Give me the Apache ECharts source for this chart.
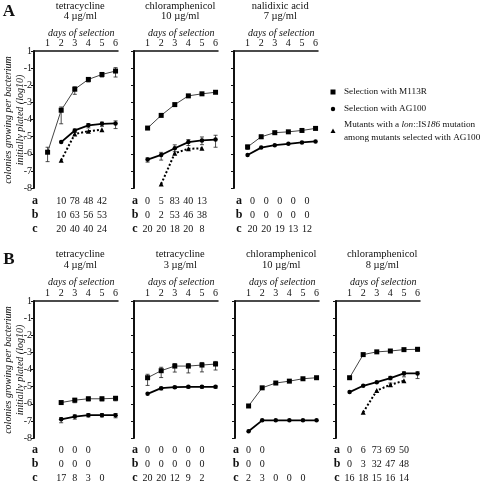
<!DOCTYPE html>
<html><head><meta charset="utf-8">
<script src="https://cdn.jsdelivr.net/npm/echarts@6/dist/echarts.min.js"></script>
<style>html,body{margin:0;padding:0;background:#fff}#c{width:480px;height:482px}</style>
</head><body><div id="c"></div><script>
// ---------- data ----------
const days = [1, 2, 3, 4, 5, 6];
const tableDays = [1, 2, 3, 4, 5];
const yTickLabels = ['1', '-1', '-2', '-3', '-4', '-5', '-6', '-7', '-8']; // values 0 .. -8
const dayAxisName = 'days of selection';
const yAxisTitle = ['colonies growing per bacterium', 'initially plated (log10)'];
const rowLetters = ['a', 'b', 'c'];
const figureLetters = ['A', 'B'];
const legendM113R = 'Selection with M113R';
const legendAG100 = 'Selection with AG100';
const legendLon = ['Mutants with a {i|lon}::IS{i|186} mutation', 'among mutants selected with AG100'];

// A1 tetracycline 4
const a1Title = ['tetracycline', '4 µg/ml'];
const a1M113R = [-5.91, -3.46, -2.23, -1.66, -1.37, -1.17];
const a1M113RErr = [[0.55, 0.29], [0.79, 0.19], [0.3, 0.14], [0.15, 0.1], [0.15, 0.1], [0.35, 0.2]];
const a1AG100 = [null, -5.32, -4.64, -4.34, -4.25, -4.23];
const a1AG100Err = [null, null, [0.12, 0.08], [0.15, 0.1], [0.15, 0.1], [0.3, 0.15]];
const a1Lon = [null, -6.38, -4.85, -4.68, -4.60, null];
const a1RowA = ['', '10', '78', '48', '42'];
const a1RowB = ['', '10', '63', '56', '53'];
const a1RowC = ['', '20', '40', '40', '24'];

// A2 chloramphenicol 10
const a2Title = ['chloramphenicol', '10 µg/ml'];
const a2M113R = [-4.5, -3.76, -3.13, -2.62, -2.5, -2.41];
const a2AG100 = [-6.34, -6.07, -5.68, -5.32, -5.22, -5.17];
const a2AG100Err = [[0.15, 0.1], [0.3, 0.15], [0.2, 0.2], [0.2, 0.15], [0.25, 0.2], [0.45, 0.25]];
const a2Lon = [null, -7.77, -5.97, -5.71, -5.68, null];
const a2RowA = ['0', '5', '83', '40', '13'];
const a2RowB = ['0', '2', '53', '46', '38'];
const a2RowC = ['20', '20', '18', '20', '8'];

// A3 nalidixic acid 7
const a3Title = ['nalidixic acid', '7 µg/ml'];
const a3M113R = [-5.6, -5.01, -4.77, -4.72, -4.64, -4.52];
const a3M113RErr = [[0.15, 0.1], [0.1, 0.1], null, null, null, null];
const a3AG100 = [-6.07, -5.64, -5.5, -5.42, -5.34, -5.28];
const a3RowA = ['0', '0', '0', '0', '0'];
const a3RowB = ['0', '0', '0', '0', '0'];
const a3RowC = ['20', '20', '19', '13', '12'];

// B1 tetracycline 4
const b1Title = ['tetracycline', '4 µg/ml'];
const b1M113R = [null, -5.93, -5.79, -5.71, -5.71, -5.68];
const b1M113RErr = [null, null, [0.15, 0.1], [0.12, 0.1], [0.12, 0.1], [0.15, 0.1]];
const b1AG100 = [null, -6.91, -6.75, -6.67, -6.67, -6.67];
const b1AG100Err = [null, [0.2, 0.1], [0.15, 0.1], [0.1, 0.1], [0.1, 0.1], [0.15, 0.1]];
const b1RowA = ['', '0', '0', '0', ''];
const b1RowB = ['', '0', '0', '0', ''];
const b1RowC = ['', '17', '8', '3', '0'];

// B2 tetracycline 3
const b2Title = ['tetracycline', '3 µg/ml'];
const b2M113R = [-4.48, -4.07, -3.8, -3.8, -3.74, -3.68];
const b2M113RErr = [[0.45, 0.2], [0.4, 0.2], [0.35, 0.15], [0.4, 0.15], [0.4, 0.15], [0.35, 0.15]];
const b2AG100 = [-5.42, -5.09, -5.03, -5.01, -5.01, -5.01];
const b2AG100Err = [null, [0.1, 0.05], [0.08, 0.05], [0.08, 0.05], [0.08, 0.05], [0.08, 0.05]];
const b2RowA = ['0', '0', '0', '0', '0'];
const b2RowB = ['0', '0', '0', '0', '0'];
const b2RowC = ['20', '20', '12', '9', '2'];

// B3 chloramphenicol 10
const b3Title = ['chloramphenicol', '10 µg/ml'];
const b3M113R = [-6.13, -5.07, -4.79, -4.68, -4.54, -4.48];
const b3AG100 = [-7.61, -6.97, -6.97, -6.97, -6.97, -6.97];
const b3RowA = ['0', '0', '', '', ''];
const b3RowB = ['0', '0', '', '', ''];
const b3RowC = ['2', '3', '0', '0', '0'];

// B4 chloramphenicol 8
const b4Title = ['chloramphenicol', '8 µg/ml'];
const b4M113R = [-4.48, -3.13, -2.97, -2.92, -2.84, -2.82];
const b4M113RErr = [null, null, null, null, [0.08, 0.05], [0.1, 0.05]];
const b4AG100 = [-5.32, -4.95, -4.74, -4.5, -4.23, -4.23];
const b4AG100Err = [null, null, null, [0.1, 0.1], [0.2, 0.1], [0.3, 0.1]];
const b4Lon = [null, -6.5, -5.23, -4.89, -4.66, null];
const b4LonErr = [null, null, null, [0.1, 0.1], null, null];
const b4RowA = ['0', '6', '73', '69', '50'];
const b4RowB = ['0', '3', '32', '47', '48'];
const b4RowC = ['16', '18', '15', '16', '14'];

// ---------- layout ----------
const FONT = 'Liberation Serif';
const rowA = { top: 51, titleY: [6, 16], nameY: 33, tableY: [201, 215, 229], letterY: 12, yTitleC: 120 };
const rowB = { top: 301, titleY: [254, 265], nameY: 282, tableY: [450, 464, 478], letterY: 260, yTitleC: 370 };
const panels = [
  { t: a1Title, sq: a1M113R, sqE: a1M113RErr, ci: a1AG100, ciE: a1AG100Err, tr: a1Lon, rows: [a1RowA, a1RowB, a1RowC], left: 34, R: rowA, yl: true, ls: 1, ns: 0 },
  { t: a2Title, sq: a2M113R, ci: a2AG100, ciE: a2AG100Err, tr: a2Lon, rows: [a2RowA, a2RowB, a2RowC], left: 134, R: rowA, ls: 1, ns: 0 },
  { t: a3Title, sq: a3M113R, sqE: a3M113RErr, ci: a3AG100, rows: [a3RowA, a3RowB, a3RowC], left: 234, R: rowA, ls: 5, ns: 5 },
  { t: b1Title, sq: b1M113R, sqE: b1M113RErr, ci: b1AG100, ciE: b1AG100Err, rows: [b1RowA, b1RowB, b1RowC], left: 34, R: rowB, yl: true, ls: 1, ns: 0 },
  { t: b2Title, sq: b2M113R, sqE: b2M113RErr, ci: b2AG100, ciE: b2AG100Err, rows: [b2RowA, b2RowB, b2RowC], left: 134, R: rowB, ls: 1, ns: 0 },
  { t: b3Title, sq: b3M113R, ci: b3AG100, rows: [b3RowA, b3RowB, b3RowC], left: 235, R: rowB, ls: 1, ns: 0 },
  { t: b4Title, sq: b4M113R, sqE: b4M113RErr, ci: b4AG100, ciE: b4AG100Err, tr: b4Lon, trE: b4LonErr, rows: [b4RowA, b4RowB, b4RowC], left: 336, R: rowB, ls: 1, ns: 0 }
];

function pts(vals) {
  const out = [];
  (vals || []).forEach((v, k) => { if (v != null) out.push([days[k], v]); });
  return out;
}
function errPts(vals, errs) {
  const out = [];
  (errs || []).forEach((e, k) => { if (e && vals[k] != null) out.push([days[k], vals[k] - e[0], vals[k] + e[1]]); });
  return out;
}
function errRender(params, api) {
  const x = api.value(0), lo = api.value(1), hi = api.value(2);
  const a = api.coord([x, lo]), b = api.coord([x, hi]);
  const w = 2, st = { stroke: '#222', lineWidth: 0.8 };
  return { type: 'group', children: [
    { type: 'line', shape: { x1: a[0], y1: a[1], x2: b[0], y2: b[1] }, style: st },
    { type: 'line', shape: { x1: a[0] - w, y1: a[1], x2: a[0] + w, y2: a[1] }, style: st },
    { type: 'line', shape: { x1: b[0] - w, y1: b[1], x2: b[0] + w, y2: b[1] }, style: st }
  ]};
}

const grids = [], xAxes = [], yAxes = [], series = [];
panels.forEach((p, i) => {
  grids.push({ left: p.left, top: p.R.top, width: 84, height: 137 });
  xAxes.push({ gridIndex: i, type: 'value', position: 'top', min: 0, max: 6.18, interval: 1,
    axisLine: { show: true, onZero: false, lineStyle: { color: '#111', width: 1.5 } },
    axisTick: { show: false }, splitLine: { show: false },
    axisLabel: { formatter: v => (v >= 1 && v <= 6) ? String(v) : '', fontFamily: FONT, fontSize: 10, color: '#111', margin: 3 } });
  yAxes.push({ gridIndex: i, type: 'value', min: -8, max: 0, interval: 1,
    axisLine: { show: true, onZero: false, lineStyle: { color: '#111', width: 2 } },
    axisTick: { show: true, length: 3, lineStyle: { color: '#111', width: 1 } }, splitLine: { show: false },
    axisLabel: { show: !!p.yl, formatter: v => yTickLabels[Math.round(-v)], fontFamily: FONT, fontSize: 10, color: '#111', margin: 2 } });
  const base = { xAxisIndex: i, yAxisIndex: i, animation: false, silent: true };
  series.push(Object.assign({ type: 'custom', renderItem: errRender, data: errPts(p.sq, p.sqE), z: 1 }, base));
  series.push(Object.assign({ type: 'custom', renderItem: errRender, data: errPts(p.ci, p.ciE), z: 1 }, base));
  if (p.tr) series.push(Object.assign({ type: 'custom', renderItem: errRender, data: errPts(p.tr, p.trE), z: 1 }, base));
  series.push(Object.assign({ type: 'line', data: pts(p.sq), symbol: 'rect', symbolSize: 5, showSymbol: true,
    lineStyle: { color: '#444', width: 1 }, itemStyle: { color: '#000' }, z: 3 }, base));
  series.push(Object.assign({ type: 'line', data: pts(p.ci), symbol: 'circle', symbolSize: 4.5,
    lineStyle: { color: '#000', width: 1.8 }, itemStyle: { color: '#000' }, z: 3 }, base));
  if (p.tr) series.push(Object.assign({ type: 'line', data: pts(p.tr), symbol: 'triangle', symbolSize: 5,
    lineStyle: { color: '#000', width: 2, type: 'dotted' }, itemStyle: { color: '#000' }, z: 2 }, base));
});

const chart = echarts.init(document.getElementById('c'));
chart.setOption({ animation: false, grid: grids, xAxis: xAxes, yAxis: yAxes, series: series });

// ---------- texts ----------
const g = [];
function txt(x, y, s, o) {
  g.push({ type: 'text', x: x, y: y, silent: true, z: 10, style: Object.assign({ text: s, fill: '#111', fontFamily: FONT, fontSize: 10,
    textAlign: 'center', textVerticalAlign: 'middle' }, o || {}) });
}
panels.forEach((p, i) => {
  const cx = chart.convertToPixel({ gridIndex: i }, [3.4, 0])[0];
  txt(cx, p.R.titleY[0], p.t[0], { fontSize: 10.5 });
  txt(cx, p.R.titleY[1], p.t[1], { fontSize: 10.5 });
  txt(cx + 1, p.R.nameY, dayAxisName, { fontStyle: 'italic', fontSize: 10 });
  rowLetters.forEach((L, r) => {
    txt(p.left + p.ls, p.R.tableY[r], L, { fontWeight: 'bold', fontSize: 12 });
    p.rows[r].forEach((s, k) => {
      if (!s) return;
      const x = chart.convertToPixel({ gridIndex: i }, [tableDays[k], 0])[0] + p.ns;
      txt(x, p.R.tableY[r], s, { fontSize: 10 });
    });
  });
});
[rowA, rowB].forEach((R, j) => {
  txt(9, R.letterY, figureLetters[j], { fontWeight: 'bold', fontSize: 17 });
  g.push({ type: 'text', x: 8, y: R.yTitleC, rotation: Math.PI / 2, silent: true,
    style: { text: yAxisTitle[0], fill: '#111', fontFamily: FONT, fontStyle: 'italic', fontSize: 10, textAlign: 'center', textVerticalAlign: 'middle' } });
  g.push({ type: 'text', x: 20, y: R.yTitleC, rotation: Math.PI / 2, silent: true,
    style: { text: yAxisTitle[1], fill: '#111', fontFamily: FONT, fontStyle: 'italic', fontSize: 10, textAlign: 'center', textVerticalAlign: 'middle' } });
});
// legend
const LF = 9.2;
g.push({ type: 'rect', shape: { x: 330.5, y: 89.5, width: 5, height: 5 }, style: { fill: '#000' }, silent: true });
g.push({ type: 'circle', shape: { cx: 333, cy: 109, r: 2.2 }, style: { fill: '#000' }, silent: true });
g.push({ type: 'polygon', shape: { points: [[333, 128.5], [330.5, 133], [335.5, 133]] }, style: { fill: '#000' }, silent: true });
txt(344, 92, legendM113R, { textAlign: 'left', fontSize: LF });
txt(344, 109, legendAG100, { textAlign: 'left', fontSize: LF });
txt(344, 125, legendLon[0], { textAlign: 'left', fontSize: LF, rich: { i: { fontStyle: 'italic', fontFamily: FONT, fontSize: LF, fill: '#111' } } });
txt(344, 138, legendLon[1], { textAlign: 'left', fontSize: LF });
chart.setOption({ graphic: g });
</script></body></html>
